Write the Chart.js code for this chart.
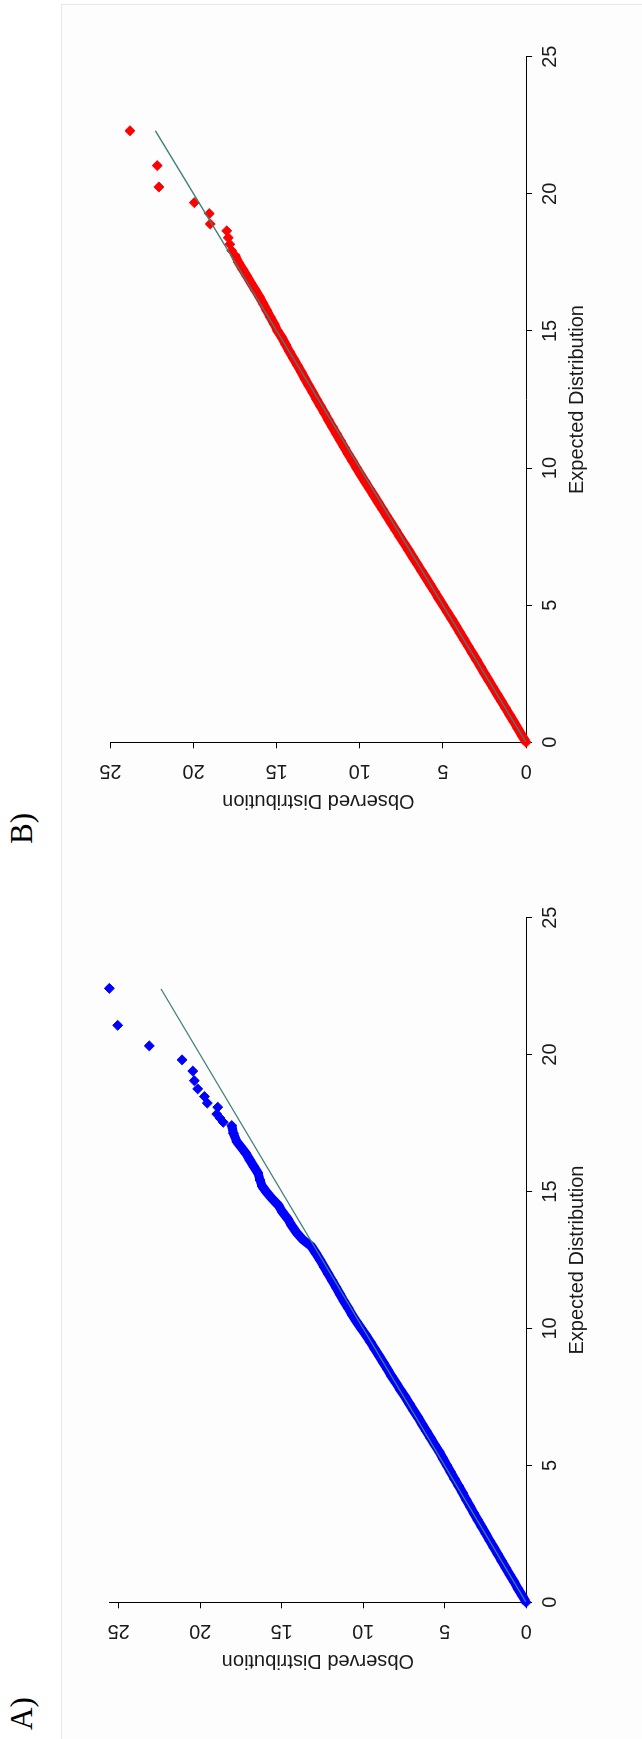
<!DOCTYPE html>
<html>
<head>
<meta charset="utf-8">
<script src="https://cdn.jsdelivr.net/npm/chart.js@4.4.1/dist/chart.umd.min.js"></script>
<style>
    html, body { margin: 0; padding: 0; background: #ffffff; }
    body { width: 642px; height: 1739px; overflow: hidden; position: relative; }
    /* the figure is laid out landscape and turned a quarter turn to the left */
    #sheet { position: absolute; left: 0; top: 0; width: 1739px; height: 642px;
             transform-origin: 0 0; transform: translateY(1739px) rotate(-90deg); }
    #frame { position: absolute; left: -2px; top: 61px; width: 1735px; height: 600px;
             border: 1px solid #e4e7ee; background: #fdfdfd; }
    .tag { position: absolute; top: 6px; font-family: "Liberation Serif", "Times New Roman", serif;
           font-size: 31px; line-height: 31px; color: #000; }
    canvas { position: absolute; top: 0; }
</style>
</head>
<body>
<div id="sheet">
    <div id="frame"></div>
    <div class="tag" style="left:9px">A)</div>
    <div class="tag" style="left:895px">B)</div>
    <canvas id="chart-a" width="870" height="642" style="left:0"></canvas>
    <canvas id="chart-b" width="869" height="642" style="left:870px"></canvas>
</div>
<script>
// ejes
const EXPECTED_TICKS = [0, 5, 10, 15, 20, 25];
const OBSERVED_TICKS = [0, 5, 10, 15, 20, 25];

// A) parte densa (esperado / observado)
const A_BAND_EXP = [0, 0.25, 0.5, 0.75, 1, 1.25, 1.5, 1.75, 2, 2.25, 2.5, 2.75, 3, 3.25, 3.5, 3.75,
    4, 4.25, 4.5, 4.75, 5, 5.25, 5.5, 5.75, 6, 6.25, 6.5, 6.75, 7, 7.25, 7.5, 7.75,
    8, 8.25, 8.5, 8.75, 9, 9.25, 9.5, 9.75, 10, 10.25, 10.5, 10.75, 11, 11.25, 11.5, 11.75,
    12, 12.25, 12.5, 12.75, 13, 13.25, 13.5, 13.75, 14, 14.25, 14.5, 14.75,
    15, 15.2, 15.42, 15.67, 15.91, 16.15, 16.4, 16.64, 16.82, 17.13, 17.41];
const A_BAND_OBS = [0, 0.24, 0.5, 0.74, 0.99, 1.24, 1.49, 1.73, 1.98, 2.23, 2.47, 2.72, 2.96, 3.2, 3.44, 3.68,
    3.9, 4.14, 4.39, 4.62, 4.86, 5.1, 5.33, 5.6, 5.86, 6.12, 6.38, 6.63, 6.9, 7.16, 7.42, 7.7,
    7.97, 8.25, 8.5, 8.76, 9.02, 9.29, 9.55, 9.82, 10.12, 10.4, 10.68, 10.92, 11.18, 11.42, 11.66, 11.9,
    12.15, 12.4, 12.64, 12.9, 13.18, 13.72, 14.08, 14.38, 14.62, 14.95, 15.2, 15.6,
    15.95, 16.2, 16.33, 16.45, 16.7, 16.95, 17.2, 17.51, 17.75, 17.96, 18.06];
// A) cola
const A_TAIL_EXP = [17.53, 17.68, 17.83, 18.08, 18.23, 18.47, 18.75, 19.05, 19.4, 19.81, 20.32, 21.07, 22.42];
const A_TAIL_OBS = [18.58, 18.78, 18.98, 18.92, 19.56, 19.74, 20.15, 20.36, 20.45, 21.11, 23.12, 25.06, 25.57];
const A_REF = [0, 22.4];

// B) parte densa
const B_BAND_EXP = [0, 0.25, 0.5, 0.75, 1, 1.25, 1.5, 1.75, 2, 2.25, 2.5, 2.75, 3, 3.25, 3.5, 3.75,
    4, 4.25, 4.5, 4.75, 5, 5.25, 5.5, 5.75, 6, 6.25, 6.5, 6.75, 7, 7.25, 7.5, 7.75,
    8, 8.25, 8.5, 8.75, 9, 9.25, 9.5, 9.75, 10, 10.25, 10.5, 10.75, 11, 11.25, 11.5, 11.75,
    12, 12.25, 12.5, 12.75, 13, 13.25, 13.5, 13.75, 14, 14.25, 14.5, 14.75,
    15, 15.25, 15.5, 15.75, 16, 16.25, 16.5, 16.75, 17, 17.25, 17.5, 17.75];
const B_BAND_OBS = [0, 0.25, 0.5, 0.74, 0.99, 1.24, 1.49, 1.74, 1.99, 2.24, 2.49, 2.73, 2.98, 3.23, 3.48, 3.73,
    3.98, 4.23, 4.48, 4.74, 5.0, 5.26, 5.51, 5.77, 6.03, 6.29, 6.55, 6.81, 7.07, 7.33, 7.6, 7.86,
    8.12, 8.38, 8.64, 8.9, 9.16, 9.42, 9.68, 9.94, 10.19, 10.44, 10.69, 10.93, 11.17, 11.41, 11.65, 11.89,
    12.12, 12.36, 12.6, 12.83, 13.07, 13.3, 13.52, 13.76, 14.0, 14.24, 14.46, 14.68,
    14.95, 15.15, 15.38, 15.6, 15.82, 16.05, 16.3, 16.55, 16.8, 17.05, 17.3, 17.5];
// B) cola
const B_TAIL_EXP = [17.93, 18.16, 18.4, 18.65, 18.9, 19.28, 19.68, 20.25, 21.03, 22.3];
const B_TAIL_OBS = [17.71, 17.82, 17.92, 18.01, 19.0, 19.06, 19.96, 22.09, 22.19, 23.83];
const B_REF = [0, 22.3];

const FONT = { family: '"Liberation Sans", Arial, sans-serif', size: 20 };
const TEXT_COLOR = '#1a1a1a';
const REF_COLOR = '#3f7f78';

function toPoints(xs, ys) {
    return xs.map((x, i) => ({ x, y: ys[i] }));
}

function drawPanel(canvasId, band, tail, ref, color, yMax, pad) {
    const ctx = document.getElementById(canvasId);
    const marker = {
        pointStyle: 'rectRot',
        pointRadius: 5,
        pointBorderWidth: 1,
        pointBackgroundColor: color,
        pointBorderColor: color,
        clip: false
    };

    new Chart(ctx, {
        type: 'scatter',
        data: {
            datasets: [
                {
                    data: toPoints(ref, ref),
                    showLine: true,
                    borderColor: REF_COLOR,
                    borderWidth: 1.3,
                    pointRadius: 0
                },
                Object.assign({
                    data: toPoints(band[0], band[1]),
                    showLine: true,
                    borderColor: color,
                    borderWidth: 9
                }, marker),
                Object.assign({
                    data: toPoints(tail[0], tail[1]),
                    showLine: false
                }, marker)
            ]
        },
        options: {
            responsive: false,
            animation: false,
            layout: { padding: pad },
            plugins: { legend: { display: false }, tooltip: { enabled: false } },
            scales: {
                x: {
                    type: 'linear',
                    position: 'bottom',
                    min: 0,
                    max: 25,
                    afterBuildTicks: s => { s.ticks = EXPECTED_TICKS.map(v => ({ value: v })); },
                    afterFit: s => { s.height = 62.9; },
                    ticks: { font: FONT, color: TEXT_COLOR, padding: 6, maxRotation: 0, autoSkip: false },
                    grid: { drawOnChartArea: false, drawTicks: true, tickLength: 6, color: '#000' },
                    border: { display: true, color: '#000', width: 1 },
                    title: { display: true, text: 'Expected Distribution', font: FONT, color: TEXT_COLOR, padding: 0 }
                },
                y: {
                    type: 'linear',
                    position: 'left',
                    min: 0,
                    max: yMax,
                    afterBuildTicks: s => { s.ticks = OBSERVED_TICKS.map(v => ({ value: v })); },
                    afterFit: s => { s.width = 70.2; },
                    ticks: { font: FONT, color: TEXT_COLOR, padding: 11.4, minRotation: 90, maxRotation: 90,
                             crossAlign: 'center', autoSkip: false },
                    grid: { drawOnChartArea: false, drawTicks: true, tickLength: 6, color: '#000' },
                    border: { display: true, color: '#000', width: 1 },
                    title: { display: true, text: 'Observed Distribution', font: FONT, color: TEXT_COLOR, padding: 0 }
                }
            }
        }
    });
}

drawPanel('chart-a', [A_BAND_EXP, A_BAND_OBS], [A_TAIL_EXP, A_TAIL_OBS], A_REF, '#0000ff', 25.55,
    { left: 66.5, top: 109.7, right: 48.7, bottom: 53 });
drawPanel('chart-b', [B_BAND_EXP, B_BAND_OBS], [B_TAIL_EXP, B_TAIL_OBS], B_REF, '#ff0000', 25,
    { left: 56.5, top: 110.5, right: 56.7, bottom: 53 });
</script>
</body>
</html>
